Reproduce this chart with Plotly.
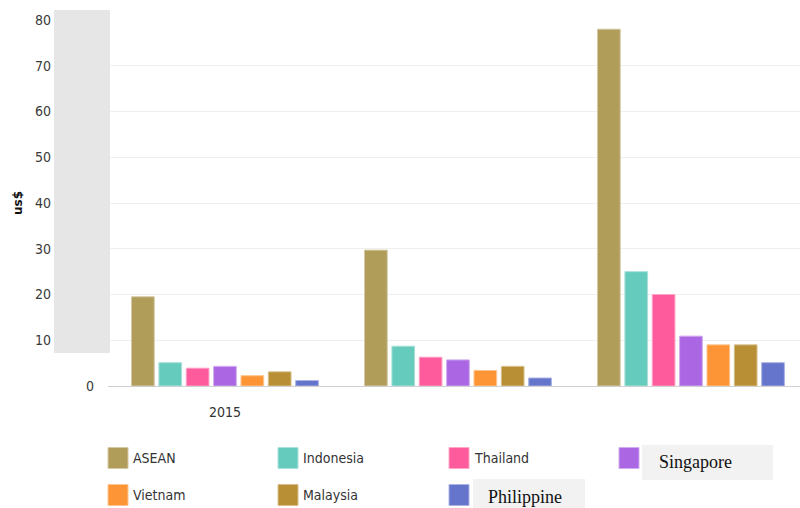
import plotly.graph_objects as go

# ---- data ----
categories = ["2015", "", ""]
series_names = ["ASEAN", "Indonesia", "Thailand", "Singapore", "Vietnam", "Malaysia", "Philippine"]
asean = [19.5, 29.7, 78.0]
indonesia = [5.1, 8.7, 25.0]
thailand = [3.9, 6.3, 20.0]
singapore = [4.3, 5.7, 10.9]
vietnam = [2.25, 3.4, 9.0]
malaysia = [3.1, 4.3, 9.0]
philippine = [1.2, 1.75, 5.1]
series_values = [asean, indonesia, thailand, singapore, vietnam, malaysia, philippine]
y_tick_values = [0, 10, 20, 30, 40, 50, 60, 70, 80]
y_title = "us$"

# ---- style ----
colors = [(176, 157, 90), (101, 203, 189), (253, 91, 155), (170, 102, 227),
          (253, 149, 54), (184, 143, 52), (102, 117, 204)]

W, H = 800, 508
ML, MR, MT, MB = 108, 0, 20, 122
PW, PH = W - ML - MR, H - MT - MB
BOTTOM = MT + PH
SANS = "DejaVu Sans Condensed"


def px(x):
    return (x - ML) / PW


def py(y):
    return (BOTTOM - y) / PH


def rgba(c, a):
    return f"rgba({c[0]},{c[1]},{c[2]},{a})"


def light(c, f=0.45):
    return "rgb(%d,%d,%d)" % tuple(round(v + (255 - v) * f) for v in c)


xpos = list(range(len(categories)))

fig = go.Figure()
for name, vals, c in zip(series_names, series_values, colors):
    fig.add_trace(go.Bar(
        x=xpos, y=vals, name=name,
        marker=dict(color=rgba(c, 1), line=dict(color=light(c), width=1)),
        showlegend=False,
    ))
# invisible trace to anchor secondary y axis (tick labels 10..80)
fig.add_trace(go.Scatter(x=[None], y=[None], yaxis="y2", showlegend=False, hoverinfo="skip"))

tick_font = dict(family=SANS, size=14, color="#3a3a3a")

shapes = []
annotations = []

# grey overlay block on the left of the plot
shapes.append(dict(type="rect", xref="paper", yref="paper",
                   x0=px(54), x1=px(110), y0=py(353), y1=py(10),
                   fillcolor="#e6e6e6", line=dict(width=0), layer="above"))

# custom legend (4 columns, 2 rows)
col_x = [108, 278, 449, 619]
row_y = [458, 495]
special = {
    "Singapore": dict(box=(23, 154, -13, 22), tx=38, ty=4),
    "Philippine": dict(box=(24, 136, -16, 16), tx=37, ty=2),
}
for i, (name, c) in enumerate(zip(series_names, colors)):
    cx = col_x[i % 4]
    cy = row_y[i // 4]
    shapes.append(dict(type="rect", xref="paper", yref="paper",
                       x0=px(cx), x1=px(cx + 20), y0=py(cy + 10.5), y1=py(cy - 10.5),
                       fillcolor=rgba(c, 1), line=dict(color=light(c), width=1)))
    if name in special:
        s = special[name]
        bx0, bx1, by0, by1 = s["box"]
        shapes.append(dict(type="rect", xref="paper", yref="paper",
                           x0=px(cx + bx0), x1=px(cx + bx1), y0=py(cy + by1), y1=py(cy + by0),
                           fillcolor="#f2f2f2", line=dict(width=0)))
        annotations.append(dict(text=name, xref="paper", yref="paper",
                                x=px(cx + s["tx"]), y=py(cy + s["ty"]),
                                xanchor="left", yanchor="middle", showarrow=False,
                                font=dict(family="Liberation Serif", size=18, color="#111")))
    else:
        annotations.append(dict(text=name, xref="paper", yref="paper",
                                x=px(cx + 23), y=py(cy),
                                xanchor="left", yanchor="middle", showarrow=False,
                                font=dict(family=SANS, size=14, color="#333")))

fig.update_layout(
    width=W, height=H,
    margin=dict(l=ML, r=MR, t=MT, b=MB, pad=0),
    paper_bgcolor="white", plot_bgcolor="white",
    barmode="group", bargap=0.178, bargroupgap=0.17,
    xaxis=dict(range=[-0.502, -0.502 + PW / 233], tickvals=xpos, ticktext=categories,
               showgrid=False, zeroline=False, showline=True, linecolor="#d0d0d0",
               linewidth=1, ticks="", ticklabelstandoff=13,
               tickfont=dict(family=SANS, size=14, color="#333")),
    yaxis=dict(range=[0, 80], tickvals=y_tick_values,
               ticktext=[str(y_tick_values[0])] + [""] * (len(y_tick_values) - 1),
               showgrid=True, gridcolor="#efefef", gridwidth=1, zeroline=False,
               ticks="", ticklabelstandoff=13, tickfont=tick_font),
    yaxis2=dict(range=[0, 80], overlaying="y", side="left", anchor="x",
                tickvals=y_tick_values[1:], showgrid=False, zeroline=False,
                ticks="", ticklabelstandoff=56, tickfont=tick_font,
                title=dict(text=f"<b>{y_title}</b>", standoff=9,
                           font=dict(family="DejaVu Sans", size=12, color="#111"))),
    shapes=shapes,
    annotations=annotations,
    showlegend=False,
)

fig.write_html("out.html")
